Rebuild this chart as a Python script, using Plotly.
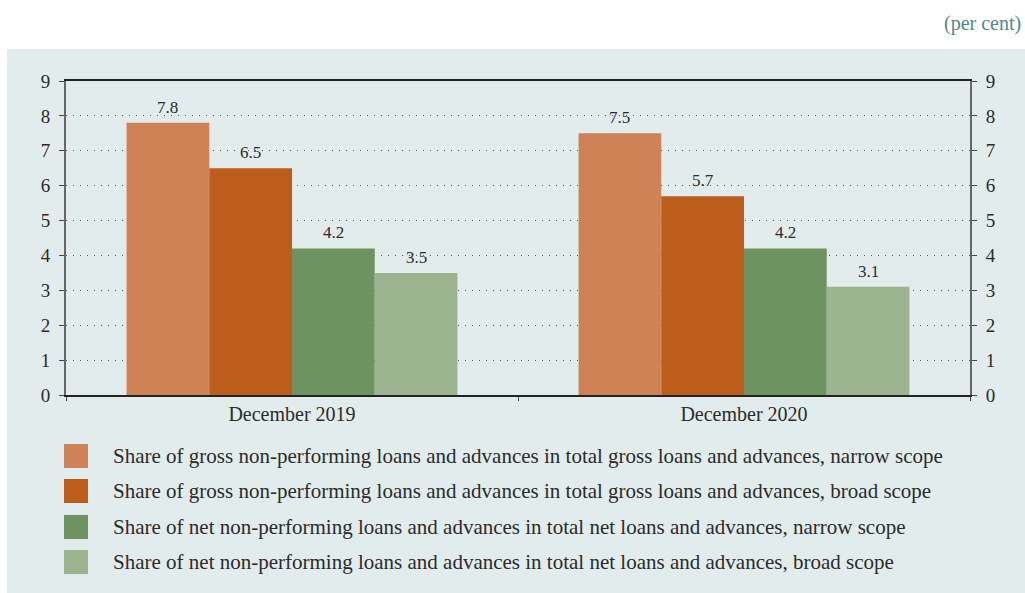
import plotly.graph_objects as go

categories = ["December 2019", "December 2020"]
series_names = [
    "Share of gross non-performing loans and advances in total gross loans and advances, narrow scope",
    "Share of gross non-performing loans and advances in total gross loans and advances, broad scope",
    "Share of net non-performing loans and advances in total net loans and advances, narrow scope",
    "Share of net non-performing loans and advances in total net loans and advances, broad scope",
]
gross_narrow = [7.8, 7.5]
gross_broad = [6.5, 5.7]
net_narrow = [4.2, 4.2]
net_broad = [3.5, 3.1]
series_values = [gross_narrow, gross_broad, net_narrow, net_broad]
colors = ["#CF8256", "#BC5D1B", "#6F9261", "#9BB38F"]
y_ticks = [0, 1, 2, 3, 4, 5, 6, 7, 8, 9]

W, H = 1025, 593
L, R, T, B = 66, 970, 81, 395
FONT = "Liberation Serif"
TXT = "#2b2b2b"
PANEL = "#E3ECED"
BARGAP = 0.268


def px_x(p):
    return (p - L) / (R - L)


def px_y(p):
    return (B - p) / (B - T)


fig = go.Figure()
for name, vals, col in zip(series_names, series_values, colors):
    fig.add_trace(go.Bar(
        x=categories, y=vals, name=name, marker=dict(color=col, line=dict(width=0)),
        showlegend=False,
    ))
# invisible trace for right axis
fig.add_trace(go.Scatter(x=[categories[0]], y=[None], yaxis="y2", showlegend=False,
                         hoverinfo="skip", mode="markers", marker=dict(opacity=0)))

annotations = []
n = len(series_values)
w = (1 - BARGAP) / n
for i, vals in enumerate(series_values):
    for ci, v in enumerate(vals):
        annotations.append(dict(
            x=ci + (i - (n - 1) / 2) * w, y=v, xref="x", yref="y",
            text=f"{v:.1f}", showarrow=False, yanchor="bottom", yshift=4,
            font=dict(family=FONT, size=17, color=TXT),
        ))

# legend (manual)
rows = [456, 491, 527, 562]
shapes = [dict(type="rect", xref="paper", yref="paper", layer="below",
               x0=px_x(7), x1=px_x(1030), y0=px_y(600), y1=px_y(49),
               fillcolor=PANEL, line=dict(width=0))]
for rc, name, col in zip(rows, series_names, colors):
    shapes.append(dict(type="rect", xref="paper", yref="paper",
                       x0=px_x(64), x1=px_x(88), y0=px_y(rc + 12), y1=px_y(rc - 12),
                       fillcolor=col, line=dict(width=0)))
    annotations.append(dict(xref="paper", yref="paper", x=px_x(111), y=px_y(rc),
                            xanchor="left", yanchor="middle", showarrow=False,
                            text=name, font=dict(family=FONT, size=21, color=TXT)))

annotations.append(dict(xref="paper", yref="paper", x=px_x(1023), y=px_y(23),
                        xanchor="right", yanchor="middle", showarrow=False,
                        text="(per cent)", font=dict(family=FONT, size=20, color="#4E8A8A")))

yax = dict(range=[0, 9], tickvals=y_ticks, showgrid=True, gridcolor="#555555",
           griddash="1px,6px", gridwidth=1, zeroline=False, showline=True,
           linecolor="#666666", linewidth=2, ticks="outside", ticklen=5,
           tickcolor="#444444", tickfont=dict(family=FONT, size=19, color=TXT),
           ticklabelstandoff=5, fixedrange=True)

fig.update_layout(
    width=W, height=H,
    margin=dict(l=L, r=W - R, t=T, b=H - B),
    paper_bgcolor="white", plot_bgcolor="rgba(0,0,0,0)",
    barmode="group", bargap=BARGAP, bargroupgap=0,
    xaxis=dict(type="category", showline=True, linecolor="#222222", linewidth=1.5,
               mirror=True, ticks="outside", tickson="boundaries", ticklen=4,
               tickcolor="#444444", tickfont=dict(family=FONT, size=20, color=TXT),
               showgrid=False, range=[-0.5, 1.5]),
    yaxis=yax,
    yaxis2=dict(yax, overlaying="y", side="right", anchor="x", showgrid=False),
    shapes=shapes, annotations=annotations,
    font=dict(family=FONT),
)

fig.write_html("out.html")
